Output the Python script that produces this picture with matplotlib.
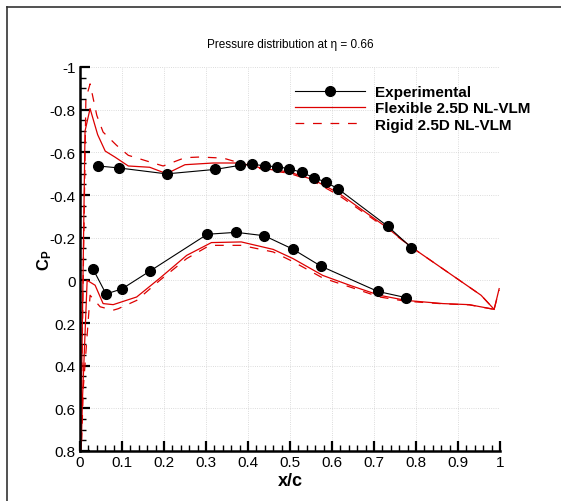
import matplotlib
matplotlib.use("Agg")
import matplotlib.pyplot as plt
from matplotlib.lines import Line2D
from matplotlib.ticker import MultipleLocator, FuncFormatter

plt.rcParams['font.family'] = ['Liberation Sans', 'DejaVu Sans']
plt.rcParams['mathtext.fontset'] = 'custom'
plt.rcParams['mathtext.rm'] = 'Liberation Sans'
plt.rcParams['mathtext.bf'] = 'Liberation Sans:bold'
plt.rcParams['mathtext.it'] = 'Liberation Sans:italic'

# Experimental data
exp_upper_x = [0.0435, 0.092, 0.206, 0.322, 0.381, 0.410, 0.440, 0.469, 0.498, 0.528, 0.557, 0.585, 0.615, 0.733, 0.789]
exp_upper_cp = [-0.536, -0.527, -0.499, -0.520, -0.539, -0.545, -0.536, -0.533, -0.523, -0.506, -0.481, -0.461, -0.428, -0.253, -0.153]
exp_lower_x = [0.031, 0.062, 0.100, 0.167, 0.303, 0.372, 0.439, 0.506, 0.574, 0.709, 0.776]
exp_lower_cp = [-0.053, 0.064, 0.040, -0.044, -0.216, -0.225, -0.209, -0.147, -0.066, 0.052, 0.081]

# Flexible 2.5D NL-VLM
flex_upper_x = [0.0, 0.012, 0.024, 0.042, 0.060, 0.083, 0.115, 0.166, 0.206, 0.250, 0.317, 0.381,
                0.440, 0.498, 0.555, 0.615, 0.729, 0.789, 0.955, 0.986, 0.998]
flex_upper_cp = [1.0, -0.70, -0.805, -0.683, -0.606, -0.578, -0.536, -0.530, -0.500, -0.542, -0.550, -0.550,
                 -0.523, -0.508, -0.472, -0.410, -0.250, -0.156, 0.070, 0.136, 0.039]
flex_lower_x = [0.0, 0.006, 0.017, 0.036, 0.055, 0.079, 0.135, 0.190, 0.254, 0.313, 0.384, 0.460,
                0.507, 0.578, 0.642, 0.713, 0.776, 0.864, 0.927, 0.986]
flex_lower_cp = [1.0, 0.55, 0.0, 0.023, 0.109, 0.114, 0.078, -0.010, -0.117, -0.177, -0.180, -0.145,
                 -0.102, -0.023, 0.023, 0.070, 0.094, 0.109, 0.114, 0.136]

# Rigid 2.5D NL-VLM
rigid_upper_x = [0.0, 0.014, 0.024, 0.040, 0.055, 0.087, 0.115, 0.166, 0.198, 0.250, 0.285, 0.341, 0.381,
                 0.440, 0.498, 0.555, 0.615, 0.729, 0.789, 0.955, 0.986, 0.998]
rigid_upper_cp = [1.0, -0.851, -0.921, -0.773, -0.695, -0.633, -0.586, -0.555, -0.536, -0.575, -0.578, -0.573, -0.550,
                  -0.518, -0.502, -0.465, -0.400, -0.245, -0.156, 0.070, 0.136, 0.045]
rigid_lower_x = [0.0, 0.008, 0.024, 0.048, 0.079, 0.091, 0.135, 0.190, 0.254, 0.309, 0.384, 0.460,
                 0.507, 0.578, 0.650, 0.713, 0.776, 0.864, 0.927, 0.986]
rigid_lower_cp = [1.0, 0.50, 0.070, 0.124, 0.140, 0.133, 0.094, 0.000, -0.102, -0.164, -0.164, -0.133,
                  -0.088, -0.011, 0.036, 0.078, 0.098, 0.110, 0.115, 0.136]

RED = '#dd0000'

fig = plt.figure(figsize=(5.61, 5.02), dpi=100)
ax = fig.add_axes([80/561, 1-452/502, 420/561, 384/502])

dash = (0, (7, 7))
ax.plot(flex_upper_x, flex_upper_cp, color=RED, lw=0.9)
ax.plot(flex_lower_x, flex_lower_cp, color=RED, lw=0.9)
ax.plot(rigid_upper_x, rigid_upper_cp, color=RED, lw=0.9, ls=dash)
ax.plot(rigid_lower_x, rigid_lower_cp, color=RED, lw=0.9, ls=dash)
ax.plot(exp_upper_x, exp_upper_cp, color='black', lw=0.8, marker='o', ms=7)
ax.plot(exp_lower_x, exp_lower_cp, color='black', lw=0.8, marker='o', ms=7)

ax.set_xlim(0, 1)
ax.set_ylim(0.8, -1)
ax.xaxis.set_major_locator(MultipleLocator(0.1))
ax.xaxis.set_minor_locator(MultipleLocator(0.02))
ax.yaxis.set_major_locator(MultipleLocator(0.2))
ax.yaxis.set_minor_locator(MultipleLocator(0.05))

def fmt(v, pos):
    s = f"{v:.1f}"
    if s in ("-0.0", "0.0"):
        return "0"
    if s == "1.0":
        return "1"
    if s == "-1.0":
        return "-1"
    return s

ax.xaxis.set_major_formatter(FuncFormatter(fmt))
ax.yaxis.set_major_formatter(FuncFormatter(fmt))

for s in ('top', 'right'):
    ax.spines[s].set_visible(False)
for s in ('left', 'bottom'):
    ax.spines[s].set_linewidth(1.8)
ax.tick_params(which='major', direction='in', length=7, width=1.6, labelsize=11, pad=3)
ax.tick_params(which='minor', direction='in', length=4, width=1.0)
ax.grid(True, which='major', ls=':', lw=0.6, color='#d0d0d0')

ax.set_xlabel('x/c', fontsize=13, fontweight='bold', labelpad=2)
ax.set_ylabel(r'$\mathbf{C}_\mathbf{P}$', fontsize=12, labelpad=-3)

fig.text(290/561, 1-45/502, 'Pressure distribution at \u03b7 = 0.66', ha='center', va='center', fontsize=8.5)

handles = [Line2D([], [], color='black', lw=0.8, marker='o', ms=7),
           Line2D([], [], color=RED, lw=0.9),
           Line2D([], [], color=RED, lw=0.9, ls=dash)]
labels = ['Experimental', 'Flexible 2.5D NL-VLM', 'Rigid 2.5D NL-VLM']
leg = ax.legend(handles, labels, loc='upper left', bbox_to_anchor=(295/561, 1-86/502),
                bbox_transform=fig.transFigure, frameon=False, handlelength=4.6,
                handletextpad=0.65, labelspacing=0.15, borderpad=0, borderaxespad=0,
                prop={'weight': 'bold', 'size': 11})

# figure frame (left and top lines)
fig.add_artist(Line2D([7/561, 7/561], [-0.01, 1-8/502], color='#333333', lw=1.2, transform=fig.transFigure))
fig.add_artist(Line2D([7/561, 1.01], [1-8/502, 1-8/502], color='#333333', lw=1.2, transform=fig.transFigure))

fig.savefig('out.png', dpi=100)
